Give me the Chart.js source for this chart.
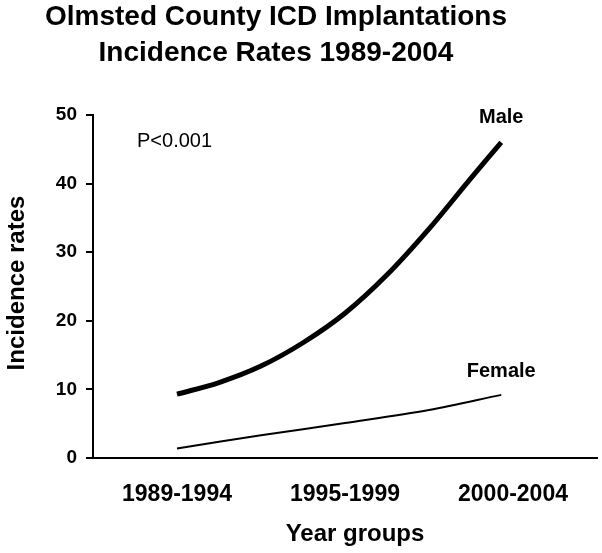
<!DOCTYPE html>
<html>
<head>
<meta charset="utf-8">
<script src="https://cdn.jsdelivr.net/npm/chart.js@4.4.1/dist/chart.umd.min.js"></script>
<style>
  html, body { margin: 0; padding: 0; background: #fff; }
  #wrap { width: 602px; height: 553px; }
</style>
</head>
<body>
<div id="wrap"><canvas id="icdChart" width="602" height="553"></canvas></div>
<script>
// Data (x = position along the year-group axis)
const yearGroups = ['1989-1994', '1995-1999', '2000-2004'];
const malePositions = [0, 0.25, 0.5, 0.75, 1, 1.25, 1.5, 1.75, 1.93];
const maleRates = [9.3, 11.0, 13.4, 16.8, 21.1, 26.7, 33.4, 40.8, 46.0];
const femalePositions = [0, 0.5, 1, 1.5, 1.93];
const femaleRates = [1.4, 3.3, 5.1, 7.0, 9.2];
const yTicks = [0, 10, 20, 30, 40, 50];

const FONT = '"Liberation Sans", Arial, sans-serif';

// Title, axis titles and annotations
const textPlugin = {
    id: 'textPlugin',
    afterDraw(chart) {
        const ctx = chart.ctx;
        const x = chart.scales.x;
        ctx.save();
        ctx.fillStyle = '#000';
        ctx.textAlign = 'center';
        ctx.textBaseline = 'alphabetic';

        ctx.font = 'bold 28px ' + FONT;
        ctx.fillText('Olmsted County ICD Implantations', 276, 25);
        ctx.fillText('Incidence Rates 1989-2004', 276, 61);

        ctx.font = 'bold 24px ' + FONT;
        ctx.fillText('Year groups', 355, 541);

        ctx.save();
        ctx.translate(24, 283);
        ctx.rotate(-Math.PI / 2);
        ctx.fillText('Incidence rates', 0, 0);
        ctx.restore();

        ctx.font = 'bold 20px ' + FONT;
        ctx.fillText('Male', x.getPixelForValue(malePositions[malePositions.length - 1]), 123);
        ctx.fillText('Female', x.getPixelForValue(femalePositions[femalePositions.length - 1]), 377);

        ctx.textAlign = 'left';
        ctx.font = '20px ' + FONT;
        ctx.fillText('P<0.001', 137, 147);
        ctx.restore();
    }
};

const ctx = document.getElementById('icdChart');
new Chart(ctx, {
    type: 'line',
    data: {
        datasets: [{
            label: 'Male',
            data: malePositions.map((p, i) => ({ x: p, y: maleRates[i] })),
            borderColor: '#000',
            borderWidth: 5,
            pointRadius: 0,
            tension: 0.33,
            borderCapStyle: 'butt',
            clip: false
        }, {
            label: 'Female',
            data: femalePositions.map((p, i) => ({ x: p, y: femaleRates[i] })),
            borderColor: '#000',
            borderWidth: 2,
            pointRadius: 0,
            tension: 0.33,
            clip: false
        }]
    },
    options: {
        responsive: false,
        animation: false,
        layout: {
            padding: { top: 115, right: 5, left: 0, bottom: 0 }
        },
        plugins: {
            legend: { display: false },
            tooltip: { enabled: false }
        },
        scales: {
            x: {
                type: 'linear',
                min: -0.5,
                max: 2.5,
                afterBuildTicks: function (scale) {
                    scale.ticks = yearGroups.map((g, i) => ({ value: i }));
                },
                afterFit: function (scale) {
                    scale.height = 95;
                },
                grid: { display: false },
                border: { display: true, color: '#000', width: 2 },
                ticks: {
                    color: '#000',
                    padding: 15,
                    maxRotation: 0,
                    font: { family: FONT, size: 23, weight: 'bold' },
                    callback: function (value) {
                        return yearGroups[value];
                    }
                }
            },
            y: {
                min: 0,
                max: 50,
                afterBuildTicks: function (scale) {
                    scale.ticks = yTicks.map(v => ({ value: v }));
                },
                afterFit: function (scale) {
                    scale.width = 93;
                },
                grid: {
                    drawOnChartArea: false,
                    drawTicks: true,
                    tickLength: 7,
                    tickColor: '#000',
                    lineWidth: 2
                },
                border: { display: true, color: '#000', width: 2 },
                ticks: {
                    color: '#000',
                    padding: 9,
                    font: { family: FONT, size: 19, weight: 'bold' }
                }
            }
        }
    },
    plugins: [textPlugin]
});
</script>
</body>
</html>
